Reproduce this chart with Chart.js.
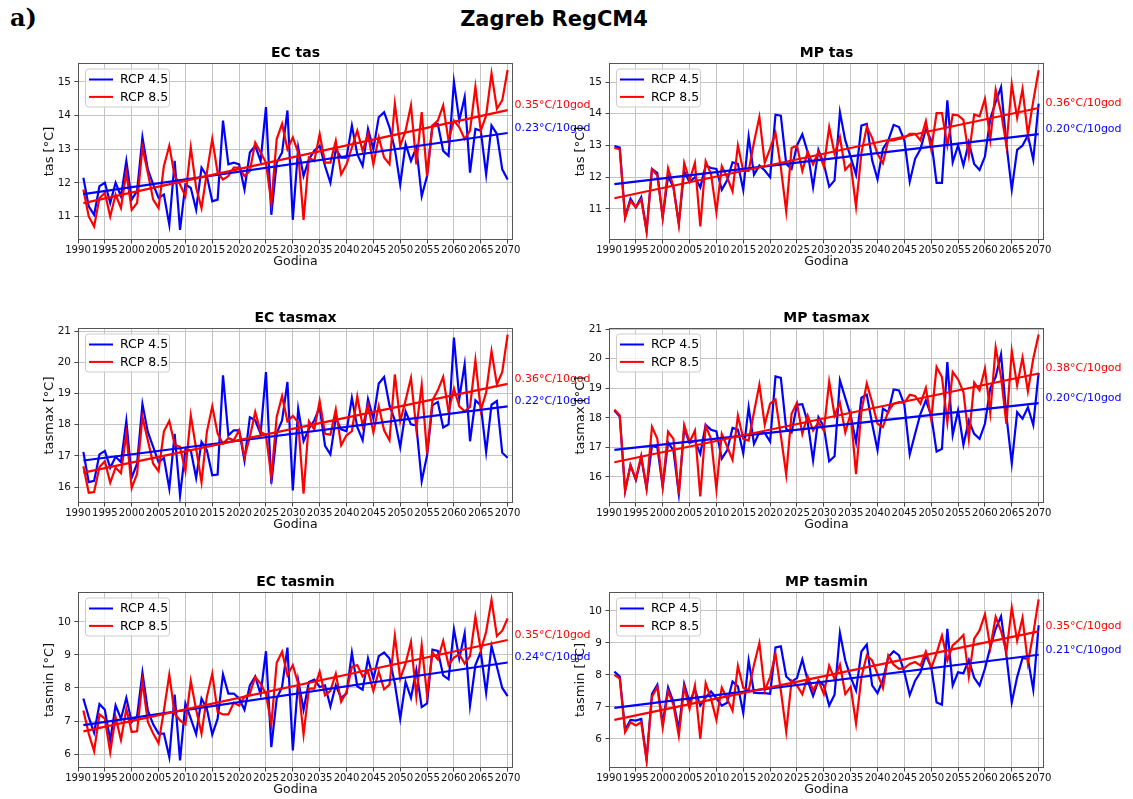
<!DOCTYPE html>
<html>
<head>
<meta charset="utf-8">
<title>Zagreb RegCM4</title>
<script src="https://cdn.jsdelivr.net/npm/chart.js@4.4.1/dist/chart.umd.min.js"></script>
<style>
  html, body { margin: 0; padding: 0; background: #fff; }
  body { width: 1133px; height: 799px; position: relative; overflow: hidden; font-family: 'DejaVu Sans', sans-serif; }
  canvas { position: absolute; }
  #panel-tag { position: absolute; left: 10px; top: 3px; font: bold 24px 'DejaVu Serif', serif; color: #000; }
  #main-title { position: absolute; left: 0; width: 1108px; top: 7px; text-align: center; font: bold 21px 'DejaVu Sans', sans-serif; color: #000; }
</style>
</head>
<body>
<div id="panel-tag">a)</div>
<div id="main-title">Zagreb RegCM4</div>

<canvas id="ec-tas" width="600" height="247" style="left:0px;top:27px"></canvas>
<canvas id="mp-tas" width="602" height="247" style="left:531px;top:27px"></canvas>
<canvas id="ec-tasmax" width="600" height="245" style="left:0px;top:292px"></canvas>
<canvas id="mp-tasmax" width="602" height="245" style="left:531px;top:292px"></canvas>
<canvas id="ec-tasmin" width="600" height="246" style="left:0px;top:556px"></canvas>
<canvas id="mp-tasmin" width="602" height="246" style="left:531px;top:556px"></canvas>

<script>
// Simulated years 1991..2070
const years = Array.from({ length: 80 }, (_, i) => 1991 + i);
const xTicks = [1990, 1995, 2000, 2005, 2010, 2015, 2020, 2025, 2030, 2035, 2040,
                2045, 2050, 2055, 2060, 2065, 2070];

// EC tas
const ecTas45 = [
  12.15, 11.3, 11.05, 11.9, 12.0, 11.4, 12.0, 11.6, 12.65, 11.5,
  11.75, 13.35, 12.4, 11.95, 11.55, 11.65, 10.75, 12.65, 10.6, 11.95,
  11.85, 11.2, 12.45, 12.2, 11.45, 11.5, 13.85, 12.55, 12.6, 12.55,
  11.8, 12.9, 13.1, 12.65, 14.25, 11.05, 12.6, 12.9, 14.15, 10.9,
  13.05, 12.2, 12.7, 12.95, 13.1, 12.5, 12.0, 13.0, 12.75, 12.75,
  13.7, 12.85, 12.5, 13.6, 13.0, 13.95, 14.1, 13.65, 13.0, 11.95,
  13.15, 12.65, 13.05, 11.6, 12.2, 13.7, 13.75, 12.95, 12.8, 15.0,
  13.85, 14.55, 12.3, 13.6, 13.55, 12.25, 13.7, 13.45, 12.4, 12.1
];
const ecTas85 = [
  11.8, 11.0, 10.7, 11.55, 11.7, 11.0, 11.65, 11.25, 12.3, 11.2,
  11.4, 13.05, 12.3, 11.5, 11.25, 12.5, 13.1, 12.2, 11.95, 11.6,
  13.05, 11.85, 11.25, 12.3, 13.3, 12.3, 12.1, 12.2, 12.45, 12.45,
  12.2, 12.35, 13.2, 12.9, 12.6, 11.4, 13.3, 13.75, 13.0, 13.35,
  12.9, 10.9, 12.75, 12.65, 13.45, 12.6, 12.6, 13.25, 12.25, 12.55,
  13.05, 13.55, 12.95, 13.45, 12.55, 13.35, 12.75, 12.55, 14.35, 13.1,
  13.55, 14.3, 12.55, 14.1, 12.2, 13.7, 13.85, 14.3, 13.25, 13.85,
  13.65, 13.3, 13.55, 14.85, 13.55, 14.0, 15.25, 14.2, 14.45, 15.35
];

// MP tas
const mpTas45 = [
  12.98, 12.93, 10.74, 11.32, 11.05, 11.37, 10.32, 12.26, 12.13, 10.74,
  12.03, 11.68, 10.55, 12.19, 11.84, 12.0, 11.68, 12.37, 12.29, 12.26,
  11.6, 11.9, 12.47, 12.42, 11.6, 13.28, 12.08, 12.37, 12.21, 12.0,
  13.97, 13.94, 12.42, 12.26, 13.0, 13.35, 12.79, 11.68, 12.86, 12.42,
  11.7, 11.9, 14.05, 13.16, 12.63, 12.08, 13.63, 13.68, 12.53, 11.93,
  12.89, 13.16, 13.65, 13.58, 13.16, 11.86, 12.58, 12.89, 13.51, 13.16,
  11.82, 11.82, 14.42, 12.47, 13.0, 12.37, 13.1, 12.42, 12.23, 12.65,
  13.84, 14.37, 14.84, 13.05, 11.61, 12.86, 13.0, 13.32, 12.55, 14.32
];
const mpTas85 = [
  12.92, 12.88, 10.72, 11.25, 11.05, 11.3, 10.28, 12.25, 12.05, 10.72,
  12.28, 11.7, 10.5, 12.45, 11.9, 12.45, 10.45, 12.5, 12.1, 10.9,
  12.35, 12.0, 11.55, 13.0, 12.2, 12.2, 13.1, 13.9, 12.45, 12.9,
  13.4, 12.3, 10.92, 12.92, 13.0, 12.2, 12.8, 12.4, 12.8, 12.34,
  13.58, 12.74, 13.26, 12.23, 12.42, 11.07, 12.76, 13.58, 13.24, 12.74,
  12.44, 13.16, 13.16, 13.21, 13.24, 13.37, 13.37, 13.16, 13.77, 12.87,
  14.02, 14.02, 13.0, 13.97, 13.95, 13.81, 12.68, 13.98, 13.92, 14.47,
  13.18, 14.76, 14.05, 13.0, 14.93, 13.87, 14.78, 13.34, 14.4, 15.37
];

// EC tasmax
const ecTasmax45 = [
  17.13, 16.16, 16.2, 17.05, 17.16, 16.62, 16.97, 16.8, 18.12, 16.3,
  16.75, 18.66, 17.77, 17.29, 16.8, 16.93, 15.95, 17.71, 15.73, 17.21,
  17.18, 16.29, 17.45, 17.18, 16.38, 16.4, 19.58, 17.66, 17.82, 17.82,
  16.85, 18.24, 18.14, 17.71, 19.69, 16.11, 17.73, 18.14, 19.37, 15.89,
  18.51, 17.47, 17.87, 18.14, 18.57, 17.32, 17.05, 18.22, 17.85, 17.79,
  18.86, 17.93, 17.5, 18.82, 18.19, 19.32, 19.53, 18.62, 18.14, 17.28,
  18.43, 18.01, 17.98, 16.19, 17.02, 18.62, 18.73, 17.91, 18.01, 20.79,
  18.84, 19.94, 17.47, 18.78, 18.62, 17.12, 18.64, 18.76, 17.1, 16.94
];
const ecTasmax85 = [
  16.67, 15.82, 15.84, 16.64, 16.83, 16.14, 16.62, 16.45, 17.71, 15.97,
  16.43, 18.25, 17.5, 16.75, 16.51, 17.79, 18.12, 17.36, 17.29, 16.51,
  18.3, 17.23, 16.16, 17.77, 18.59, 17.71, 17.39, 17.57, 17.5, 17.82,
  16.97, 17.61, 18.41, 17.77, 17.68, 16.32, 18.25, 18.92, 18.11, 18.28,
  18.08, 15.79, 18.11, 17.85, 18.76, 17.71, 17.68, 18.49, 17.34, 17.66,
  17.79, 18.91, 17.96, 18.62, 17.75, 18.6, 17.82, 17.5, 19.61, 18.11,
  18.78, 19.5, 17.87, 19.27, 17.07, 18.78, 19.1, 19.53, 18.41, 19.16,
  18.59, 18.43, 18.57, 20.07, 18.46, 19.03, 20.36, 19.29, 19.69, 20.89
];

// MP tasmax
const mpTasmax45 = [
  18.25, 18.05, 15.53, 16.4, 15.9, 16.66, 15.61, 17.06, 17.0, 15.67,
  17.17, 16.9, 15.43, 17.64, 17.15, 17.23, 16.78, 17.76, 17.6, 17.54,
  16.62, 16.9, 17.66, 17.6, 16.8, 18.36, 17.12, 17.51, 17.49, 17.2,
  19.4, 19.35, 17.63, 17.51, 18.44, 18.46, 17.85, 16.56, 18.02, 17.7,
  16.53, 16.7, 19.27, 18.67, 18.08, 17.18, 18.68, 18.78, 17.8, 16.91,
  18.31, 18.19, 18.96, 18.93, 18.44, 16.76, 17.46, 18.14, 18.59, 18.08,
  16.86, 16.95, 19.89, 17.42, 18.25, 17.09, 17.91, 17.46, 17.29, 17.8,
  19.01, 19.38, 20.15, 18.08, 16.46, 18.19, 17.97, 18.36, 17.76, 19.52
];
const mpTasmax85 = [
  18.28, 18.08, 15.53, 16.4, 15.93, 16.72, 15.61, 17.7, 17.29, 15.68,
  17.53, 17.29, 15.42, 17.76, 17.18, 17.57, 15.34, 17.73, 17.29, 15.59,
  17.46, 17.03, 16.58, 18.08, 17.29, 17.23, 18.19, 19.12, 17.77, 18.48,
  18.62, 17.4, 16.08, 18.14, 18.51, 17.46, 18.08, 17.57, 17.85, 17.57,
  19.23, 18.08, 18.51, 17.51, 18.14, 16.1, 18.22, 19.16, 18.53, 17.8,
  17.69, 18.22, 18.48, 18.53, 18.51, 18.78, 18.74, 18.48, 19.01, 17.94,
  19.72, 19.38, 17.85, 19.55, 19.3, 18.87, 17.29, 19.19, 18.93, 19.67,
  18.17, 20.38, 19.38, 17.8, 20.26, 19.1, 20.04, 18.9, 20.0, 20.82
];

// EC tasmin
const ecTasmin45 = [
  7.68, 7.12, 6.65, 7.51, 7.34, 6.41, 7.47, 7.07, 7.7, 6.97,
  7.14, 8.46, 7.32, 6.9, 6.62, 6.62, 5.91, 7.8, 5.81, 7.53,
  7.07, 6.6, 7.68, 7.37, 6.59, 7.07, 8.41, 7.83, 7.83, 7.68,
  7.34, 8.08, 8.35, 7.81, 9.11, 6.21, 7.68, 8.03, 9.22, 6.11,
  8.23, 7.34, 8.18, 8.25, 8.03, 8.08, 7.44, 8.08, 7.7, 7.83,
  9.07, 8.05, 7.95, 8.89, 8.28, 8.96, 9.07, 8.89, 8.13, 7.07,
  8.18, 7.7, 8.54, 7.42, 7.53, 9.16, 9.12, 8.38, 8.26, 9.77,
  8.89, 9.65, 7.47, 8.69, 9.09, 7.85, 9.27, 8.64, 8.0, 7.75
];
const ecTasmin85 = [
  7.32, 6.62, 6.09, 7.2, 7.07, 6.06, 7.12, 6.43, 7.37, 6.67,
  6.69, 8.2, 6.97, 6.62, 6.33, 7.32, 8.4, 7.22, 7.02, 6.9,
  8.21, 7.34, 6.62, 7.73, 8.43, 7.27, 7.2, 7.2, 7.55, 7.47,
  7.73, 7.83, 8.33, 8.13, 7.81, 6.9, 8.76, 9.09, 8.38, 8.69,
  8.13, 6.59, 7.98, 7.98, 8.49, 7.78, 7.91, 8.43, 7.58, 7.88,
  8.64, 8.69, 8.35, 8.49, 7.91, 8.49, 7.96, 8.1, 9.57, 8.28,
  8.74, 9.39, 7.75, 9.29, 7.78, 9.07, 8.86, 9.42, 8.69, 8.92,
  9.02, 8.74, 8.96, 10.15, 9.14, 9.7, 10.66, 9.57, 9.73, 10.1
];

// MP tasmin
const mpTasmin45 = [
  8.1, 7.95, 6.28, 6.59, 6.57, 6.62, 5.37, 7.41, 7.69, 6.47,
  7.61, 7.15, 6.31, 7.72, 7.15, 7.54, 7.04, 7.3, 7.48, 7.27,
  7.04, 7.13, 7.79, 7.64, 6.81, 8.45, 7.44, 7.43, 7.43, 7.41,
  8.86, 8.89, 7.95, 7.79, 7.9, 8.48, 7.82, 7.34, 7.82, 7.67,
  7.04, 7.38, 9.31, 8.45, 7.93, 7.51, 8.73, 8.95, 7.67, 7.43,
  7.84, 8.55, 8.74, 8.61, 8.08, 7.37, 7.82, 8.08, 8.61, 8.24,
  7.14, 7.07, 9.44, 7.67, 8.08, 8.05, 8.47, 7.91, 7.67, 8.19,
  8.86, 9.44, 9.83, 8.61, 7.14, 7.93, 8.53, 8.5, 7.54, 9.55
];
const mpTasmin85 = [
  8.0, 7.88, 6.21, 6.52, 6.42, 6.52, 5.32, 7.32, 7.62, 6.36,
  7.49, 7.06, 6.1, 7.62, 6.94, 7.67, 6.0, 7.74, 7.25, 6.59,
  7.6, 7.25, 6.88, 8.28, 7.6, 7.51, 8.32, 8.99, 7.51, 7.93,
  8.66, 7.51, 6.23, 7.82, 7.67, 7.39, 7.95, 7.51, 7.82, 7.4,
  8.29, 7.87, 8.32, 7.4, 7.63, 6.48, 7.93, 8.61, 8.45, 8.03,
  7.59, 8.61, 8.32, 8.19, 8.21, 8.34, 8.4, 8.29, 8.73, 8.21,
  8.68, 9.23, 8.45, 8.92, 9.07, 9.25, 7.95, 9.13, 9.39, 9.89,
  8.86, 9.81, 9.37, 8.71, 10.1, 9.07, 9.78, 8.37, 9.29, 10.36
];

// Linear trends: slope in °C per decade and fitted value at 2070
// order: [EC tas, MP tas, EC tasmax, MP tasmax, EC tasmin, MP tasmin]
const trendSlope45 = [0.23, 0.20, 0.22, 0.20, 0.24, 0.21];
const trendSlope85 = [0.35, 0.36, 0.36, 0.38, 0.35, 0.35];
const trendEnd45 = [13.48, 13.36, 18.59, 18.50, 8.77, 8.63];
const trendEnd85 = [14.16, 14.18, 19.31, 19.50, 9.45, 9.36];

// y axis ticks and limits per panel
const tasTicks = [11, 12, 13, 14, 15];
const tasmaxTicks = [16, 17, 18, 19, 20, 21];
const tasminTicks = [6, 7, 8, 9, 10];
const yMin = [10.30, 10.02, 15.49, 15.12, 5.58, 5.09];
const yMax = [15.56, 15.60, 21.10, 21.04, 10.90, 10.59];

const BLUE = '#0000ff';
const RED = '#ff0000';
const Y_AXIS_W = 78;   // room for tick labels and y title left of the plot
const X_AXIS_H = 34;   // room for tick labels and "Godina" below the plot

Chart.defaults.font.family = "'DejaVu Sans', sans-serif";
Chart.defaults.color = '#000';

function toPoints(values) {
  return years.map((yr, i) => ({ x: yr, y: values[i] }));
}

function trendPoints(slopePerDecade, endValue) {
  const first = years[0];
  const last = years[years.length - 1];
  return [
    { x: first, y: endValue - slopePerDecade * (last - first) / 10 },
    { x: last, y: endValue }
  ];
}

// frame, in-plot legend and the trend labels to the right of the plot
const decorations = {
  id: 'decorations',
  afterDatasetsDraw(chart) {
    const { ctx, chartArea: a } = chart;
    ctx.save();
    ctx.strokeStyle = '#555';
    ctx.lineWidth = 1;
    ctx.strokeRect(a.left + 0.5, a.top + 0.5, a.right - a.left - 1, a.bottom - a.top - 1);

    // legend box
    const lx = a.left + 7, ly = a.top + 5.5;
    ctx.beginPath();
    ctx.roundRect(lx + 0.5, ly + 0.5, 84, 38, 3);
    ctx.fillStyle = 'rgba(255,255,255,0.8)';
    ctx.fill();
    ctx.strokeStyle = '#cccccc';
    ctx.stroke();
    const entries = chart.data.datasets.filter(ds => !ds.isTrend).reverse();
    ctx.font = "12.5px 'DejaVu Sans', sans-serif";
    ctx.textBaseline = 'middle';
    ctx.textAlign = 'left';
    entries.forEach((ds, i) => {
      const y = ly + 11 + i * 17.4;
      ctx.beginPath();
      ctx.moveTo(lx + 4, y);
      ctx.lineTo(lx + 28, y);
      ctx.strokeStyle = ds.borderColor;
      ctx.lineWidth = 2;
      ctx.stroke();
      ctx.fillStyle = '#000';
      ctx.fillText(ds.label, lx + 35, y + 0.5);
    });

    // trend labels
    ctx.font = "11px 'DejaVu Sans', sans-serif";
    chart.data.datasets.forEach((ds, i) => {
      if (!ds.isTrend) return;
      const meta = chart.getDatasetMeta(i);
      const end = meta.data[meta.data.length - 1];
      ctx.fillStyle = ds.borderColor;
      ctx.fillText(ds.slope.toFixed(2) + '°C/10god', a.right + 1.5, end.y - 5);
    });
    ctx.restore();
  }
};

function makePanel(canvasId, idx, title, yLabel, s45, s85, yTicks, padRight) {
  const datasets = [
    { isTrend: true, slope: trendSlope85[idx], data: trendPoints(trendSlope85[idx], trendEnd85[idx]), borderColor: RED },
    { isTrend: true, slope: trendSlope45[idx], data: trendPoints(trendSlope45[idx], trendEnd45[idx]), borderColor: BLUE },
    { label: 'RCP 8.5', data: toPoints(s85), borderColor: RED },
    { label: 'RCP 4.5', data: toPoints(s45), borderColor: BLUE }
  ].map(ds => Object.assign({ borderWidth: 2.2, pointRadius: 0, tension: 0, fill: false }, ds));

  return new Chart(document.getElementById(canvasId), {
    type: 'line',
    data: { datasets },
    options: {
      responsive: false,
      animation: false,
      layout: { padding: { left: 0, right: padRight, top: 0, bottom: 0 } },
      plugins: {
        legend: { display: false },
        tooltip: { enabled: false },
        title: {
          display: true,
          text: title,
          fullSize: false,
          color: '#000',
          font: { size: 14, weight: 'bold' },
          padding: { top: 18.2, bottom: 1.0 }
        }
      },
      scales: {
        x: {
          type: 'linear',
          min: 1990,
          max: 2071,
          afterBuildTicks: scale => { scale.ticks = xTicks.map(v => ({ value: v })); },
          afterFit: scale => { scale.height = X_AXIS_H; },
          ticks: {
            autoSkip: false, maxRotation: 0, minRotation: 0,
            padding: 1, color: '#111', font: { size: 10.1 },
            callback: v => String(v)
          },
          grid: { color: '#c4c4c4', tickLength: 3.5, tickColor: '#444' },
          border: { display: false },
          title: { display: true, text: 'Godina', color: '#111', font: { size: 12.5 }, padding: { top: 0, bottom: 4.8 } }
        },
        y: {
          min: yMin[idx],
          max: yMax[idx],
          afterBuildTicks: scale => { scale.ticks = yTicks.map(v => ({ value: v })); },
          afterFit: scale => { scale.width = Y_AXIS_W; },
          ticks: { padding: 3.5, color: '#111', font: { size: 10.5 }, callback: v => String(v) },
          grid: { color: '#c4c4c4', tickLength: 3.5, tickColor: '#444' },
          border: { display: false },
          title: { display: true, text: yLabel, color: '#111', font: { size: 13 }, padding: { top: 41.7, bottom: 0 } }
        }
      }
    },
    plugins: [decorations]
  });
}

makePanel('ec-tas', 0, 'EC tas', 'tas [°C]', ecTas45, ecTas85, tasTicks, 87);
makePanel('mp-tas', 1, 'MP tas', 'tas [°C]', mpTas45, mpTas85, tasTicks, 89);
makePanel('ec-tasmax', 2, 'EC tasmax', 'tasmax [°C]', ecTasmax45, ecTasmax85, tasmaxTicks, 87);
makePanel('mp-tasmax', 3, 'MP tasmax', 'tasmax [°C]', mpTasmax45, mpTasmax85, tasmaxTicks, 89);
makePanel('ec-tasmin', 4, 'EC tasmin', 'tasmin [°C]', ecTasmin45, ecTasmin85, tasminTicks, 87);
makePanel('mp-tasmin', 5, 'MP tasmin', 'tasmin [°C]', mpTasmin45, mpTasmin85, tasminTicks, 89);
</script>
</body>
</html>
